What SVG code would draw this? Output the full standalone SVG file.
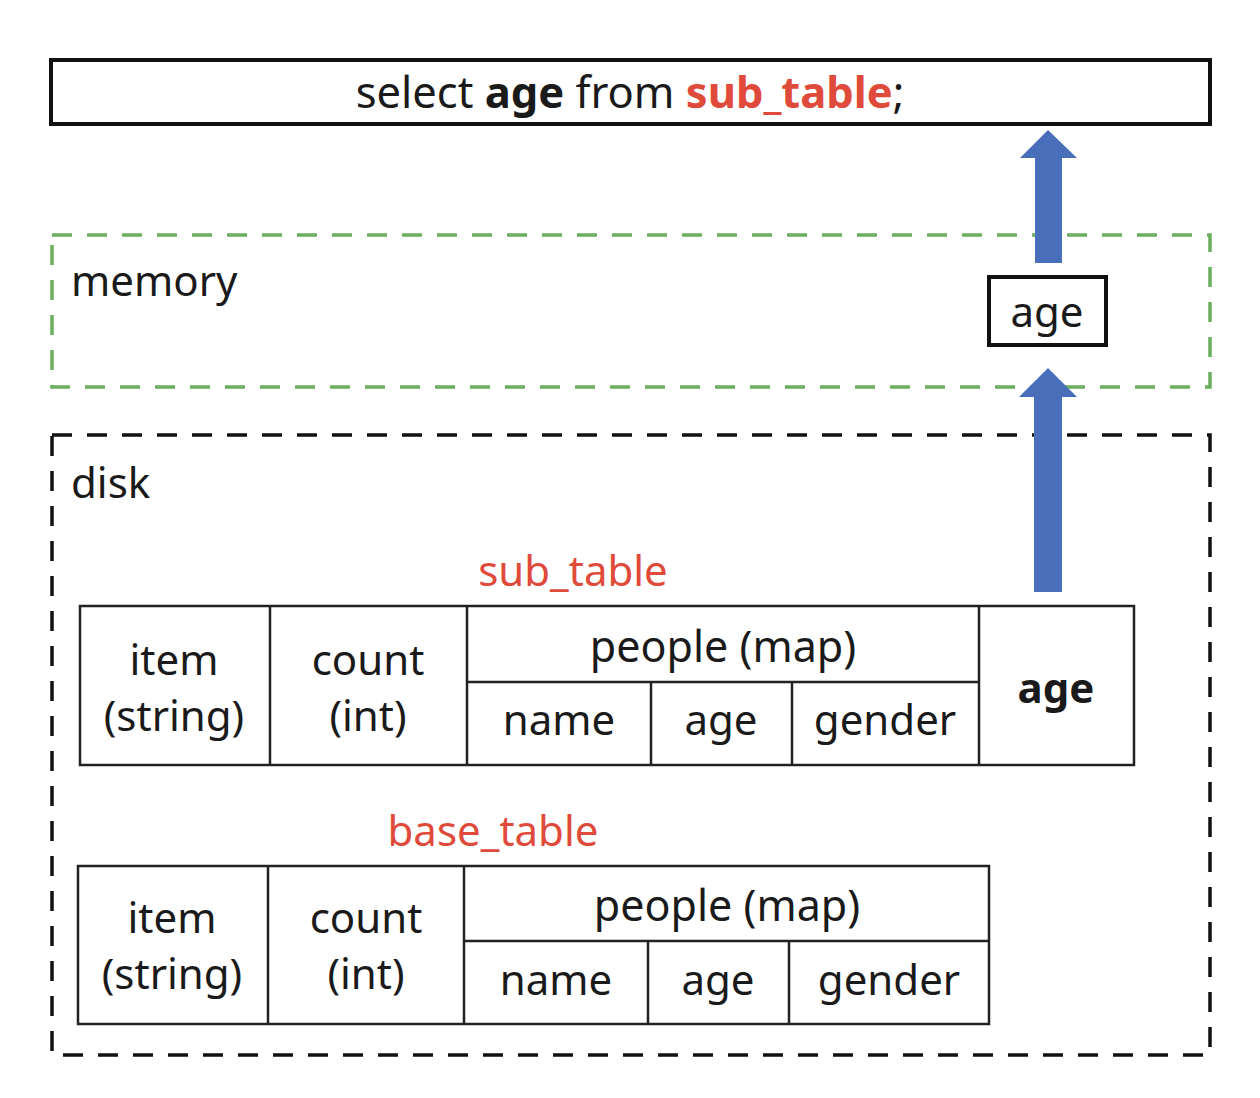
<svg xmlns="http://www.w3.org/2000/svg" width="1260" height="1098" viewBox="0 0 1260 1098">
<style>
text{font-family:"Noto Sans","Open Sans","DejaVu Sans",sans-serif;font-size:42px;fill:#1a1a1a}
.c{text-anchor:middle}
.b{font-weight:bold}
.red{fill:#e04a3a}
.cell{fill:#fff;stroke:#222;stroke-width:2.5}
.ln{stroke:#222;stroke-width:2.5}
.arrow{fill:#4a6fba}
</style>
<rect width="1260" height="1098" fill="#fff"/>
<g id="query">
<rect x="51" y="60" width="1159" height="64" fill="#fff" stroke="#111" stroke-width="4"/>
<text class="c" x="630" y="108" style="font-size:43.5px">select <tspan class="b">age</tspan> from <tspan class="b red">sub_table</tspan>;</text>
</g>
<g id="memory">
<rect x="52" y="235" width="1158" height="152" fill="none" stroke="#6aae5e" stroke-width="3.5" stroke-dasharray="20 15"/>
<text x="71" y="296">memory</text>
</g>
<g id="age-mem">
<rect x="989" y="277" width="117" height="68" fill="#fff" stroke="#111" stroke-width="4"/>
<text class="c" x="1047" y="327">age</text>
</g>
<g id="disk">
<rect x="52" y="435" width="1158" height="620" fill="none" stroke="#111" stroke-width="3.5" stroke-dasharray="20 15"/>
<text x="71" y="498">disk</text>
</g>
<g id="sub_table">
<text class="c red" x="573" y="586">sub_table</text>
<rect class="cell" x="80" y="606" width="1054" height="159"/>
<line class="ln" x1="270" y1="606" x2="270" y2="765"/>
<line class="ln" x1="467" y1="606" x2="467" y2="765"/>
<line class="ln" x1="979" y1="606" x2="979" y2="765"/>
<line class="ln" x1="467" y1="682" x2="979" y2="682"/>
<line class="ln" x1="651" y1="682" x2="651" y2="765"/>
<line class="ln" x1="792" y1="682" x2="792" y2="765"/>
<text class="c" x="174" y="675">item</text>
<text class="c" x="174" y="731">(string)</text>
<text class="c" x="368" y="675">count</text>
<text class="c" x="368" y="731">(int)</text>
<text class="c" x="723" y="662" style="font-size:43px">people (map)</text>
<text class="c" x="559" y="735">name</text>
<text class="c" x="721" y="735">age</text>
<text class="c" x="885" y="735">gender</text>
<text class="c b" x="1056" y="703">age</text>
</g>
<g id="base_table">
<text class="c red" x="493" y="846">base_table</text>
<rect class="cell" x="78" y="866" width="911" height="158"/>
<line class="ln" x1="268" y1="866" x2="268" y2="1024"/>
<line class="ln" x1="464" y1="866" x2="464" y2="1024"/>
<line class="ln" x1="464" y1="941" x2="989" y2="941"/>
<line class="ln" x1="648" y1="941" x2="648" y2="1024"/>
<line class="ln" x1="789" y1="941" x2="789" y2="1024"/>
<text class="c" x="172" y="933">item</text>
<text class="c" x="172" y="989">(string)</text>
<text class="c" x="366" y="933">count</text>
<text class="c" x="366" y="989">(int)</text>
<text class="c" x="727" y="921" style="font-size:43px">people (map)</text>
<text class="c" x="556" y="995">name</text>
<text class="c" x="718" y="995">age</text>
<text class="c" x="889" y="995">gender</text>
</g>
<g id="connectors">
<polygon class="arrow" points="1035,263 1062,263 1062,158 1077,158 1048,130 1020,158 1035,158"/>
<polygon class="arrow" points="1034,592 1062,592 1062,397 1077,397 1048,368 1019,397 1034,397"/>
</g>
</svg>
